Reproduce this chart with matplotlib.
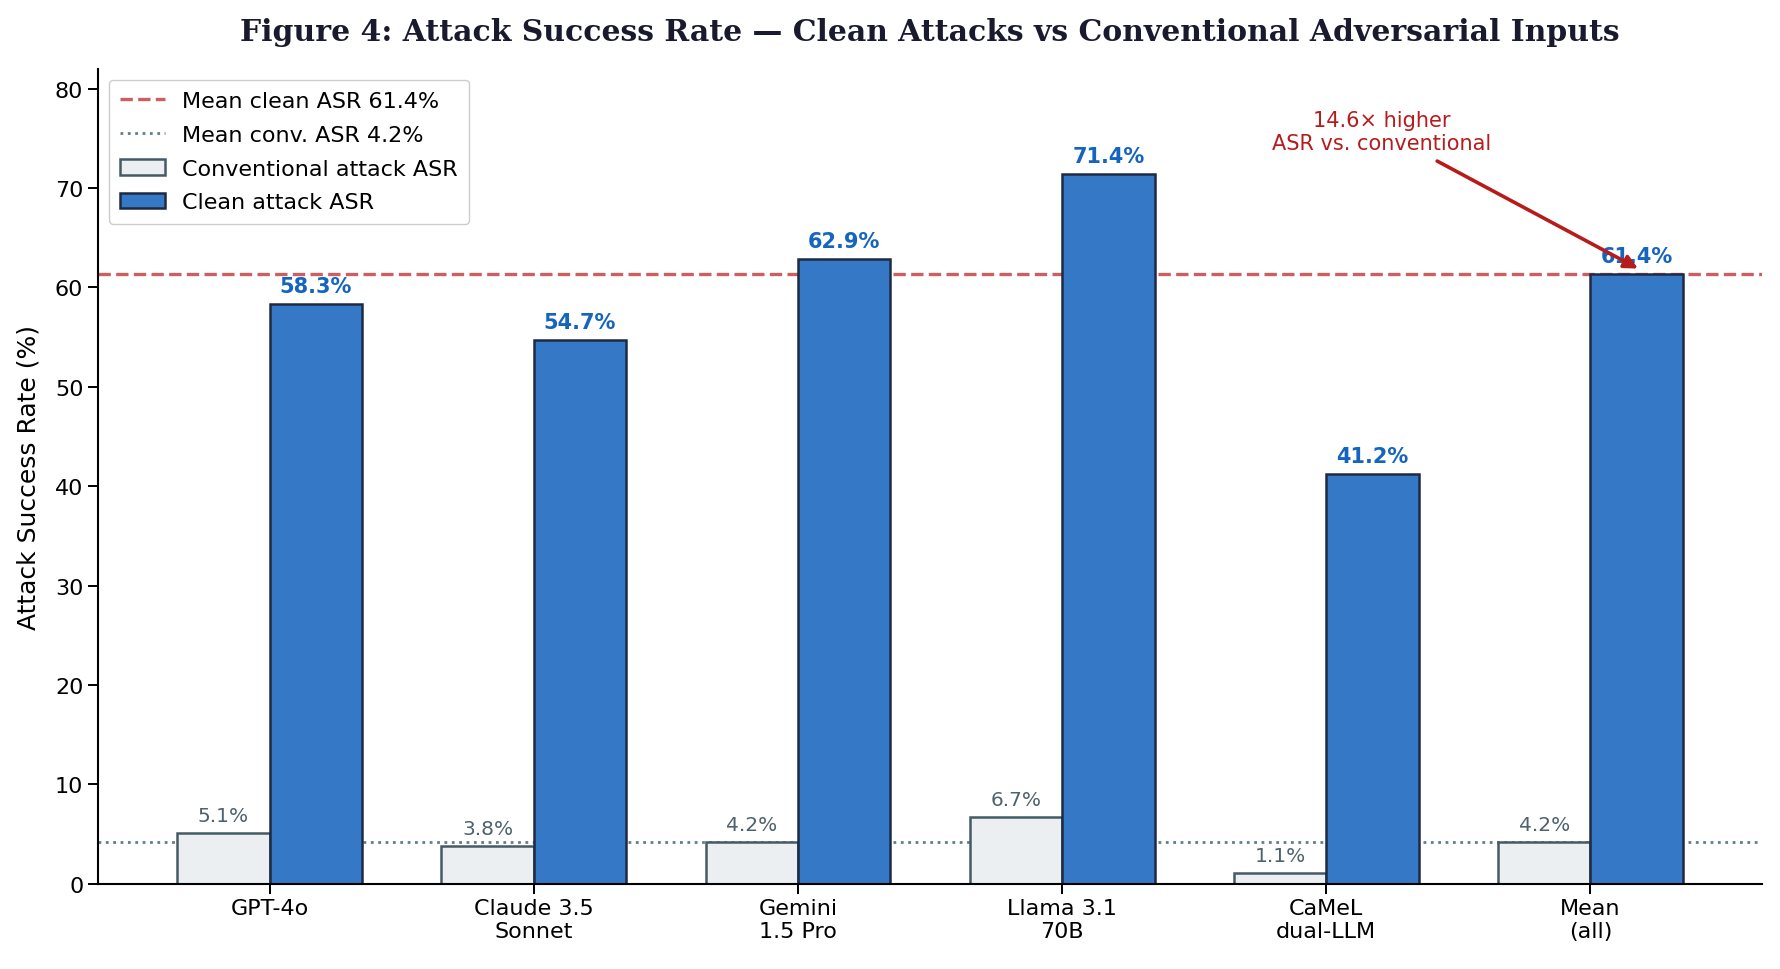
import matplotlib
matplotlib.use("Agg")
import matplotlib.pyplot as plt
import numpy as np

models = ["GPT-4o", "Claude 3.5\nSonnet", "Gemini\n1.5 Pro", "Llama 3.1\n70B", "CaMeL\ndual-LLM", "Mean\n(all)"]
conventional = [5.1, 3.8, 4.2, 6.7, 1.1, 4.2]
clean = [58.3, 54.7, 62.9, 71.4, 41.2, 61.4]
mean_clean = 61.4
mean_conv = 4.2

fig, ax = plt.subplots(figsize=(17.8, 9.7), dpi=100)
fig.subplots_adjust(left=0.055, right=0.99, top=0.928, bottom=0.088)

x = np.arange(len(models))
w = 0.35

ax.axhline(mean_clean, color="#B71C1C", ls="--", lw=2.4, alpha=0.7, label=f"Mean clean ASR {mean_clean}%", zorder=1)
ax.axhline(mean_conv, color="#546E7A", ls=":", lw=2.0, alpha=0.9, label=f"Mean conv. ASR {mean_conv}%", zorder=1)

b1 = ax.bar(x - w/2, conventional, w, color="#ECEFF1", edgecolor="#455A64", lw=1.8, label="Conventional attack ASR", zorder=2)
b2 = ax.bar(x + w/2, clean, w, color="#3478C6", edgecolor="#1E2A44", lw=1.8, label="Clean attack ASR", zorder=2)

for xi, v in zip(x, conventional):
    ax.text(xi - w/2, v + 0.8, f"{v}%", ha="center", va="bottom", fontsize=14.5, color="#4E626C")
for xi, v in zip(x, clean):
    ax.text(xi + w/2, v + 0.8, f"{v}%", ha="center", va="bottom", fontsize=15, color="#1565C0", fontweight="bold")

ax.annotate("14.6× higher\nASR vs. conventional", xy=(5.18, 61.9), xytext=(4.21, 75.7),
            ha="center", va="center", fontsize=15, color="#B71C1C",
            arrowprops=dict(arrowstyle="-|>", color="#B71C1C", lw=2.6, mutation_scale=20,
                            shrinkA=8, shrinkB=0))

ax.set_xticks(x)
ax.set_xticklabels(models, fontsize=16)
ax.tick_params(axis="y", labelsize=16)
ax.tick_params(axis="both", width=1.4, length=7)
ax.set_xlim(-0.65, 5.65)
ax.set_ylim(0, 82)
ax.set_yticks(range(0, 81, 10))
ax.set_ylabel("Attack Success Rate (%)", fontsize=18, labelpad=10)
ax.spines["top"].set_visible(False)
ax.spines["right"].set_visible(False)
for s in ["left", "bottom"]:
    ax.spines[s].set_linewidth(1.5)

ax.legend(loc="upper left", fontsize=16, framealpha=1.0, edgecolor="#cccccc",
          handlelength=2.0, labelspacing=0.62, borderpad=0.5)
ax.set_title("Figure 4: Attack Success Rate — Clean Attacks vs Conventional Adversarial Inputs",
             fontsize=21.5, fontweight="bold", family="DejaVu Serif", color="#1a1a2e", pad=21)

fig.savefig("out.png", dpi=100)
